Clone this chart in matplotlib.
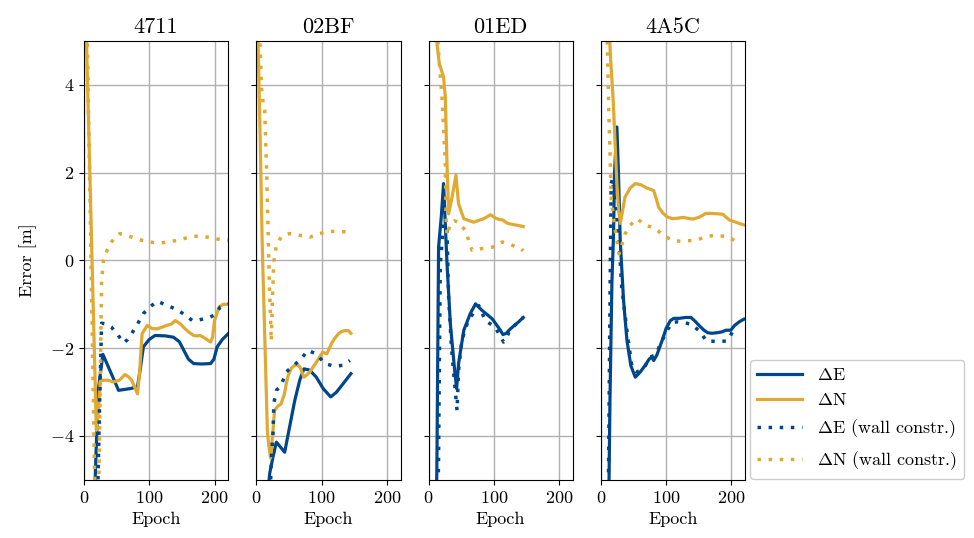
import matplotlib
matplotlib.use('Agg')
import matplotlib.pyplot as plt

# Schriften im LaTeX-Stil
plt.rcParams['font.family'] = 'serif'
plt.rcParams['font.serif'] = ['cmr10']
plt.rcParams['mathtext.fontset'] = 'cm'
plt.rcParams['axes.formatter.use_mathtext'] = True
plt.rcParams['font.size'] = 13

blue = '#00468b'
gold = '#e0a932'

titles = ['4711', '02BF', '01ED', '4A5C']

# 4711
e1_x = [12, 16, 19, 22, 29, 41, 53, 71, 82, 86, 91, 100, 109, 125, 137, 146, 153, 160, 168, 180, 194, 199, 204, 212, 221]
e1_y = [-7, -5.5, -4.18, -2.94, -2.14, -2.55, -2.96, -2.92, -2.88, -2.5, -1.97, -1.8, -1.71, -1.72, -1.75, -1.85, -2.05, -2.25, -2.35, -2.36, -2.35, -2.25, -1.97, -1.8, -1.67]
n1_x = [3, 19, 22, 25, 29, 37, 45, 54, 63, 68, 73, 78, 82, 85, 89, 97, 104, 112, 120, 127, 134, 140, 148, 155, 162, 168, 173, 178, 186, 194, 197, 200, 207, 213, 221]
n1_y = [5.5, -3.87, -3.46, -2.75, -2.73, -2.73, -2.77, -2.73, -2.6, -2.65, -2.73, -2.9, -3.04, -2.6, -1.67, -1.48, -1.55, -1.56, -1.52, -1.48, -1.45, -1.37, -1.45, -1.56, -1.65, -1.71, -1.72, -1.71, -1.78, -1.86, -1.75, -1.37, -1.06, -1.0, -1.0]
ew1_x = [20, 24, 27, 34, 42, 52, 61, 67, 73, 82, 91, 102, 112, 120, 127, 136, 145, 155, 166, 175, 184, 192, 199, 209, 221]
ew1_y = [-6, -3.25, -1.43, -1.45, -1.52, -1.7, -1.88, -1.8, -1.67, -1.45, -1.21, -1.05, -0.93, -0.98, -1.03, -1.08, -1.14, -1.25, -1.37, -1.36, -1.33, -1.3, -1.25, -1.06, -1.0]
nw1_x = [4, 17, 21, 23, 25, 27, 30, 36, 42, 48, 55, 63, 73, 85, 101, 110, 119, 133, 148, 158, 168, 178, 189, 200, 210, 221]
nw1_y = [6, -5.5, -5.5, -4.79, -2.74, -0.46, 0, 0.25, 0.42, 0.52, 0.61, 0.58, 0.53, 0.47, 0.42, 0.4, 0.4, 0.43, 0.47, 0.52, 0.55, 0.55, 0.53, 0.5, 0.47, 0.46]

# 02BF
e2_x = [15, 17, 20.5, 25.6, 30.8, 37, 43.5, 51, 59, 66.6, 73, 82, 92, 102.5, 114, 123, 133, 145]
e2_y = [-7, -5.5, -4.86, -4.48, -4.14, -4.25, -4.37, -3.8, -3.19, -2.73, -2.47, -2.5, -2.66, -2.92, -3.11, -3.0, -2.81, -2.58]
n2_x = [2, 6, 9, 13, 17, 19, 22, 26, 28, 33, 38, 43, 46, 49, 54, 59, 63, 67, 73, 78, 82, 87, 92, 97, 102, 108, 115, 120, 126, 131, 136, 141, 145]
n2_y = [5.5, 2.81, 0.45, -1.71, -3.87, -4.2, -4.5, -3.8, -3.42, -3.32, -3.27, -3.05, -2.81, -2.62, -2.45, -2.39, -2.38, -2.43, -2.66, -2.6, -2.54, -2.43, -2.32, -2.2, -2.09, -2.13, -1.9, -1.78, -1.67, -1.62, -1.6, -1.6, -1.66]
ew2_x = [20, 23, 25.6, 27, 30.8, 38, 46, 57, 69, 79, 92, 105, 119, 133, 143.5]
ew2_y = [-6, -4.56, -3.95, -3.25, -2.96, -2.85, -2.54, -2.4, -2.24, -2.05, -2.13, -2.35, -2.41, -2.39, -2.28]
nw2_x = [2, 5, 8, 11, 13, 16, 20, 23, 25, 27, 31, 38, 44, 51, 59, 67, 75, 82, 90, 97, 105, 113, 121, 128, 136, 144]
nw2_y = [6, 5.28, 3.94, 3.53, 3.43, 1.99, -0.48, -1.84, -0.78, -0.01, 0.35, 0.53, 0.58, 0.61, 0.6, 0.57, 0.55, 0.53, 0.57, 0.61, 0.64, 0.66, 0.66, 0.66, 0.65, 0.62]

# 01ED
e3_x = [11, 12.9, 15.4, 19.5, 23, 28.3, 33.4, 40, 43, 46, 54, 64, 72, 82, 97.5, 110, 114, 119, 124, 130, 138, 145]
e3_y = [-7, -4.48, 0.3, 0.99, 1.75, -0.08, -1.44, -2.5, -2.92, -2.35, -1.59, -1.21, -0.99, -1.14, -1.33, -1.59, -1.69, -1.66, -1.58, -1.5, -1.4, -1.3]
n3_x = [12, 12.9, 16.5, 23, 25.7, 28.3, 30.8, 36, 42, 46, 54, 69, 84.6, 95, 103, 109, 114, 118, 122, 132, 140, 145]
n3_y = [5.5, 4.94, 4.48, 4.18, 3.72, 2.2, 1.06, 1.44, 1.94, 1.29, 0.95, 0.87, 0.95, 1.04, 0.96, 0.93, 0.92, 0.87, 0.84, 0.81, 0.79, 0.77]
ew3_x = [13, 15.4, 18, 23, 28.3, 30.8, 35, 39, 43.7, 46, 51, 61, 77, 87, 102, 115, 117, 124, 132, 140, 145]
ew3_y = [-7, -4.45, -0.08, 0.84, 0.68, -0.84, -1.97, -2.66, -3.42, -2.5, -1.82, -1.36, -1.03, -1.37, -1.52, -1.86, -1.84, -1.61, -1.48, -1.38, -1.3]
nw3_x = [12, 16, 20.6, 25.7, 26.8, 28.3, 33.4, 40, 46, 56.5, 66.7, 75, 82, 97.5, 113, 122, 129, 136, 142, 145]
nw3_y = [5.5, 4.6, 3.72, 2.2, 0.99, 0.57, 0.84, 0.9, 0.87, 0.68, 0.23, 0.25, 0.27, 0.3, 0.42, 0.38, 0.34, 0.29, 0.26, 0.22]

# 4A5C
e4_x = [11, 14, 17, 19.5, 21, 24.6, 27, 29.7, 34.8, 40, 46, 52.8, 60, 68, 74, 78, 81, 86, 94, 100, 106.6, 112, 120, 130, 138, 144, 151, 158, 164, 170, 177, 185, 192, 199, 205, 212, 219]
e4_y = [-7, -3.2, -0.5, 0.61, 2.0, 3.04, 2.0, 0.46, -0.91, -1.82, -2.4, -2.66, -2.55, -2.39, -2.25, -2.2, -2.28, -2.15, -1.82, -1.55, -1.37, -1.32, -1.32, -1.3, -1.3, -1.38, -1.49, -1.59, -1.65, -1.66, -1.65, -1.63, -1.59, -1.59, -1.48, -1.4, -1.34]
n4_x = [12, 15, 19, 24.6, 27, 29.7, 33, 37, 45, 53, 62, 70, 76, 81, 85, 88.6, 95, 101.5, 110, 117, 126, 133, 141, 150, 161, 170, 180, 187, 192, 197, 205, 212, 219]
n4_y = [5.5, 4.6, 3.64, 1.75, 1.2, 0.84, 1.1, 1.44, 1.65, 1.75, 1.72, 1.65, 1.62, 1.59, 1.4, 1.21, 1.08, 0.99, 0.95, 0.96, 0.98, 0.96, 0.94, 0.98, 1.07, 1.07, 1.06, 1.05, 0.98, 0.92, 0.88, 0.84, 0.81]
ew4_x = [10, 12, 14, 15.8, 18, 22, 28, 32, 40, 47.7, 55, 62, 68, 76, 84, 90, 97, 103, 110, 117, 123, 131, 138, 144, 151, 156, 162, 170, 177, 185, 192, 197, 202]
ew4_y = [-7, -4.5, -1.0, 1.75, 1.86, 1.2, 0.4, -0.61, -1.6, -2.43, -2.54, -2.5, -2.4, -2.2, -2.15, -1.95, -1.73, -1.56, -1.41, -1.4, -1.41, -1.43, -1.45, -1.52, -1.61, -1.71, -1.84, -1.84, -1.85, -1.84, -1.84, -1.76, -1.61]
nw4_x = [9, 10, 12, 14, 16, 20, 24, 28, 32, 37, 45, 55, 68, 83.5, 96, 109, 114, 123, 132, 141, 150, 159, 166, 172, 180, 190, 198, 205]
nw4_y = [5.5, 5.0, 3.5, 2.5, 1.4, 0.9, 0.5, 0.15, 0.34, 0.6, 0.8, 0.95, 0.81, 0.72, 0.57, 0.46, 0.44, 0.44, 0.45, 0.45, 0.48, 0.53, 0.55, 0.57, 0.56, 0.55, 0.51, 0.45]

E = [(e1_x, e1_y), (e2_x, e2_y), (e3_x, e3_y), (e4_x, e4_y)]
N = [(n1_x, n1_y), (n2_x, n2_y), (n3_x, n3_y), (n4_x, n4_y)]
EW = [(ew1_x, ew1_y), (ew2_x, ew2_y), (ew3_x, ew3_y), (ew4_x, ew4_y)]
NW = [(nw1_x, nw1_y), (nw2_x, nw2_y), (nw3_x, nw3_y), (nw4_x, nw4_y)]

fig, axs = plt.subplots(1, 4, figsize=(9.74, 5.38), dpi=100, sharey=True)
fig.subplots_adjust(left=0.0862, right=0.765, top=0.924, bottom=0.108, wspace=0.194)

lw = 2.3
dots = (0, (1, 2.2))
for i, ax in enumerate(axs):
    ax.plot(*E[i], color=blue, lw=lw, label=r'$\Delta$E')
    ax.plot(*N[i], color=gold, lw=lw, label=r'$\Delta$N')
    ax.plot(*EW[i], color=blue, lw=lw + 0.2, ls=dots, dash_capstyle='butt', label=r'$\Delta$E (wall constr.)')
    ax.plot(*NW[i], color=gold, lw=lw + 0.2, ls=dots, dash_capstyle='butt', label=r'$\Delta$N (wall constr.)')
    ax.set_xlim(0, 221)
    ax.set_ylim(-5, 5)
    ax.set_xticks([0, 100, 200])
    ax.set_yticks([-4, -2, 0, 2, 4])
    ax.grid(True, color='#b0b0b0', lw=1)
    ax.set_axisbelow(True)
    ax.set_title(titles[i], fontsize=16)
    ax.set_xlabel('Epoch')
axs[0].set_ylabel('Error [m]', labelpad=9)

handles, labels = axs[0].get_legend_handles_labels()
fig.legend(handles, labels, loc='lower left', bbox_to_anchor=(750 / 974, 59 / 538),
           borderaxespad=0, handlelength=2.5, framealpha=1, edgecolor='#cccccc')

plt.savefig('out.png', dpi=100)
